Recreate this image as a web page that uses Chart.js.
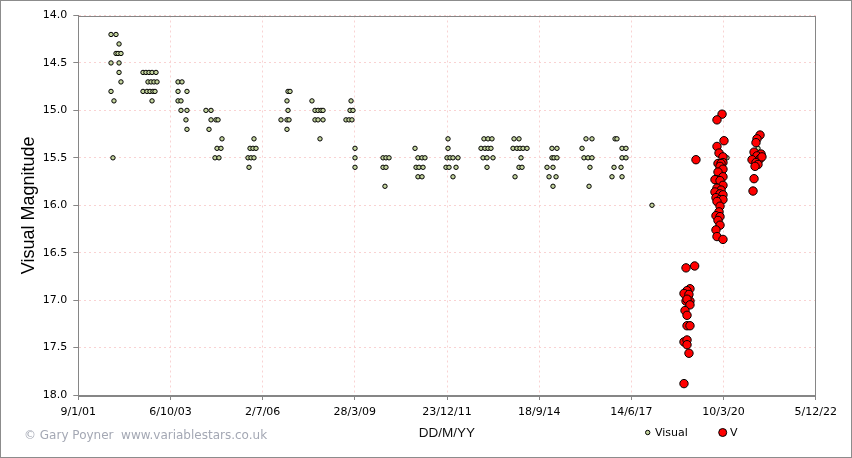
<!DOCTYPE html>
<html>
<head>
<meta charset="utf-8">
<script src="https://cdn.jsdelivr.net/npm/chart.js@4"></script>
<style>
  html, body { margin: 0; padding: 0; background: #fff; }
  #wrap { width: 850px; height: 456px; border: 1px solid #8c8c8c; }
</style>
</head>
<body>
<div id="wrap"><canvas id="lightCurve" width="850" height="456"></canvas></div>
<script>
// x values are Excel-style day numbers (9/1/01 = 36900)
const xTickValues = [36900, 37900, 38900, 39900, 40900, 41900, 42900, 43900, 44900];
const xTickLabels = ['9/1/01', '6/10/03', '2/7/06', '28/3/09', '23/12/11', '18/9/14', '14/6/17', '10/3/20', '5/12/22'];
const yTickValues = [14.0, 14.5, 15.0, 15.5, 16.0, 16.5, 17.0, 17.5, 18.0];

// visual estimates
const visualDates = [
    37255, 37309, 37342, 37309, 37331, 37363, 37255, 37342, 37342, 37363, 37255, 37287, 37276,
    37602, 37634, 37667, 37700, 37743, 37656, 37689, 37721, 37754, 37602, 37645, 37678, 37710, 37732, 37700,
    37982, 38025, 37982, 38079, 37982, 38014, 38014, 38079, 38068, 38079,
    38285, 38340, 38340, 38394, 38416, 38318, 38459, 38405, 38448, 38383, 38426,
    38806, 38763, 38795, 38828, 38741, 38774, 38806, 38752,
    39175, 39197, 39164, 39175, 39099, 39164, 39186, 39164,
    39435, 39468, 39501, 39533, 39555, 39468, 39501, 39555, 39522,
    39859, 39848, 39880, 39804, 39837, 39869, 39902, 39902, 39902,
    40206, 40238, 40271, 40206, 40238, 40227,
    40553, 40585, 40629, 40661, 40564, 40596, 40640, 40585, 40629,
    40911, 40911, 40900, 40933, 40965, 41019, 40889, 40922, 40998, 40965,
    41301, 41345, 41388, 41269, 41312, 41345, 41377, 41291, 41334, 41399, 41334,
    41627, 41681, 41616, 41659, 41692, 41725, 41768, 41703, 41681, 41714, 41638,
    42039, 42093, 42039, 42061, 42093, 41985, 42050, 42007, 42083, 42050,
    42408, 42473, 42365, 42386, 42430, 42473, 42451, 42441,
    42723, 42744, 42799, 42842, 42799, 42842, 42712, 42788, 42690, 42799,
    43124, 43938, 44274, 44242
];
const visualMags = [
    14.2, 14.2, 14.3, 14.4, 14.4, 14.4, 14.5, 14.5, 14.6, 14.7, 14.8, 14.9, 15.5,
    14.6, 14.6, 14.6, 14.6, 14.6, 14.7, 14.7, 14.7, 14.7, 14.8, 14.8, 14.8, 14.8, 14.8, 14.9,
    14.7, 14.7, 14.8, 14.8, 14.9, 14.9, 15.0, 15.0, 15.1, 15.2,
    15.0, 15.0, 15.1, 15.1, 15.1, 15.2, 15.3, 15.4, 15.4, 15.5, 15.5,
    15.3, 15.4, 15.4, 15.4, 15.5, 15.5, 15.5, 15.6,
    14.8, 14.8, 14.9, 15.0, 15.1, 15.1, 15.1, 15.2,
    14.9, 15.0, 15.0, 15.0, 15.0, 15.1, 15.1, 15.1, 15.3,
    14.9, 15.0, 15.0, 15.1, 15.1, 15.1, 15.4, 15.5, 15.6,
    15.5, 15.5, 15.5, 15.6, 15.6, 15.8,
    15.4, 15.5, 15.5, 15.5, 15.6, 15.6, 15.6, 15.7, 15.7,
    15.3, 15.4, 15.5, 15.5, 15.5, 15.5, 15.6, 15.6, 15.6, 15.7,
    15.3, 15.3, 15.3, 15.4, 15.4, 15.4, 15.4, 15.5, 15.5, 15.5, 15.6,
    15.3, 15.3, 15.4, 15.4, 15.4, 15.4, 15.4, 15.5, 15.6, 15.6, 15.7,
    15.4, 15.4, 15.5, 15.5, 15.5, 15.6, 15.6, 15.7, 15.7, 15.8,
    15.3, 15.3, 15.4, 15.5, 15.5, 15.5, 15.6, 15.8,
    15.3, 15.3, 15.4, 15.4, 15.5, 15.5, 15.6, 15.6, 15.7, 15.7,
    16.0, 15.5, 15.4, 15.6
];

// V band measurements
const vDates = [
    43493, 43587, 43536, 43504, 43471, 43525, 43493, 43536, 43504, 43536,
    43482, 43504, 43504, 43536, 43471, 43504, 43504, 43525, 43471,
    43601,
    43884, 43829, 43905, 43829, 43851, 43894, 43894, 43840, 43873, 43862,
    43894, 43840, 43894, 43818, 43807, 43862, 43894, 43829, 43873, 43818,
    43807, 43862, 43894, 43818, 43862, 43894, 43829, 43862, 43851, 43818,
    43862, 43840, 43862, 43818, 43829, 43894,
    44296, 44263, 44252, 44231, 44307, 44263, 44209, 44296, 44252, 44274,
    44317, 44242, 44231, 44220
];
const vMags = [
    16.66, 16.64, 16.88, 16.90, 16.93, 16.94, 17.01, 17.01, 16.99, 17.05,
    17.11, 17.16, 17.27, 17.27, 17.44, 17.42, 17.47, 17.56, 17.88,
    15.52,
    15.04, 15.10, 15.32, 15.38, 15.45, 15.49, 15.55, 15.56, 15.56, 15.59,
    15.62, 15.65, 15.70, 15.73, 15.73, 15.74, 15.79, 15.82, 15.84, 15.87,
    15.86, 15.88, 15.89, 15.92, 15.94, 15.94, 15.96, 16.01, 16.07, 16.11,
    16.12, 16.16, 16.21, 16.26, 16.33, 16.36,
    15.26, 15.30, 15.34, 15.44, 15.46, 15.48, 15.52, 15.51, 15.55, 15.57,
    15.49, 15.59, 15.72, 15.85
];

const toPoints = (xs, ys) => xs.map((x, i) => ({ x: x, y: ys[i] }));

const axisGray = '#868686';
const gridPink = '#f9d2d2';
const tickFont = { family: 'DejaVu Sans', size: 11 };

// frame round the plot, legend and credit line
const extrasPlugin = {
    id: 'extras',
    afterDraw(chart) {
        const { ctx, chartArea: a } = chart;
        ctx.save();
        ctx.strokeStyle = axisGray;
        ctx.lineWidth = 1;
        ctx.strokeRect(Math.round(a.left) + 0.5, Math.round(a.top) + 0.5,
            Math.round(a.right - a.left), Math.round(a.bottom - a.top));

        ctx.font = '12px "DejaVu Sans"';
        ctx.fillStyle = '#a4a8b4';
        ctx.textBaseline = 'middle';
        ctx.fillText('\u00A9 Gary Poyner  www.variablestars.co.uk', 23, 435);

        ctx.font = '11px "DejaVu Sans"';
        ctx.lineWidth = 1;
        ctx.strokeStyle = '#000';
        ctx.beginPath();
        ctx.arc(646.7, 431.5, 2.2, 0, Math.PI * 2);
        ctx.fillStyle = '#c6d6a0';
        ctx.fill();
        ctx.stroke();
        ctx.fillStyle = '#000';
        ctx.fillText('Visual', 654, 432);

        ctx.beginPath();
        ctx.arc(721.7, 431.5, 4, 0, Math.PI * 2);
        ctx.fillStyle = '#ff0000';
        ctx.fill();
        ctx.stroke();
        ctx.fillStyle = '#000';
        ctx.fillText('V', 729, 432);
        ctx.restore();
    }
};

new Chart(document.getElementById('lightCurve'), {
    type: 'scatter',
    data: {
        datasets: [
            {
                label: 'V',
                data: toPoints(vDates, vMags),
                backgroundColor: '#ff0000',
                borderColor: '#000',
                borderWidth: 1,
                pointRadius: 4.2,
                order: 0
            },
            {
                label: 'Visual',
                data: toPoints(visualDates, visualMags),
                backgroundColor: '#c6d6a0',
                borderColor: '#000',
                borderWidth: 1,
                pointRadius: 2.2,
                order: 1
            }
        ]
    },
    options: {
        responsive: false,
        devicePixelRatio: 1,
        animation: false,
        layout: { padding: { top: 14.5, right: 35.3, left: 0, bottom: 0 } },
        scales: {
            x: {
                type: 'linear',
                min: xTickValues[0],
                max: xTickValues[xTickValues.length - 1],
                afterFit: s => { s.height = 62; },
                afterBuildTicks: s => { s.ticks = xTickValues.map(v => ({ value: v })); },
                ticks: {
                    autoSkip: false,
                    maxRotation: 0,
                    padding: 6,
                    color: '#000',
                    font: tickFont,
                    callback: v => xTickLabels[xTickValues.indexOf(v)]
                },
                grid: { color: gridPink, tickColor: axisGray, tickLength: 5 },
                border: { color: axisGray, dash: [2, 3] },
                title: {
                    display: true,
                    text: 'DD/M/YY',
                    color: '#111',
                    font: { family: 'Liberation Sans', size: 13.5 },
                    padding: { top: 0, bottom: 15.6 }
                }
            },
            y: {
                type: 'linear',
                reverse: true,
                min: 14,
                max: 18,
                afterFit: s => { s.width = 77.3; },
                afterBuildTicks: s => { s.ticks = yTickValues.map(v => ({ value: v })); },
                ticks: {
                    padding: 6,
                    color: '#000',
                    font: tickFont,
                    callback: v => v.toFixed(1)
                },
                grid: { color: gridPink, tickColor: axisGray, tickLength: 5 },
                border: { color: axisGray, dash: [2, 3] },
                title: {
                    display: true,
                    text: 'Visual Magnitude',
                    color: '#000',
                    font: { family: 'Liberation Sans', size: 18 },
                    padding: { top: 17, bottom: 0 }
                }
            }
        },
        plugins: {
            legend: { display: false },
            tooltip: { enabled: false }
        }
    },
    plugins: [extrasPlugin]
});
</script>
</body>
</html>
